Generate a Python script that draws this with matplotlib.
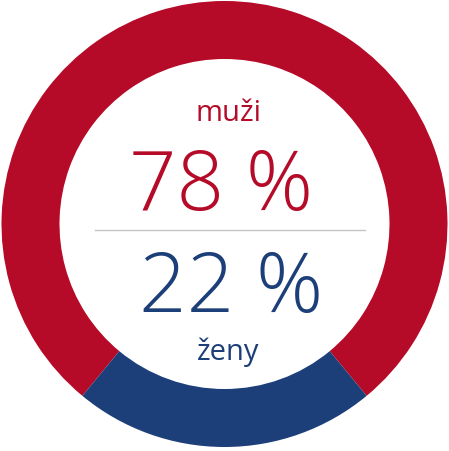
import matplotlib
matplotlib.use('Agg')
import matplotlib.pyplot as plt

# share of men / women
labels = ['muži', 'ženy']
values = [78, 22]
colors = ['#b50b28', '#1c3e79']

W, H = 449, 452
fig = plt.figure(figsize=(W / 100, H / 100), dpi=100)
ax = fig.add_axes([0, 0, 1, 1])

# put the women's wedge centred at the bottom
start = 270 - 360 * (values[0] + values[1] / 2) / sum(values)
ax.pie(values, colors=colors, startangle=start, counterclock=True,
       center=(224.5, H - 225), radius=223, frame=True,
       wedgeprops=dict(width=58, linewidth=0))
ax.set_xlim(0, W)
ax.set_ylim(0, H)
ax.set_aspect('equal')
ax.axis('off')

font = 'Open Sans'
ax.text(229, H - 121, labels[0], color=colors[0], fontsize=21, family=font,
        ha='center', va='baseline')
ax.text(221, H - 210, f'{values[0]} %', color=colors[0], fontsize=60,
        family=font, fontweight='light', ha='center', va='baseline')
ax.plot([95, 365], [H - 231, H - 231], color='#c4c4c4', lw=1)
ax.text(231, H - 312, f'{values[1]} %', color=colors[1], fontsize=60,
        family=font, fontweight='light', ha='center', va='baseline')
ax.text(228, H - 360, labels[1], color=colors[1], fontsize=21, family=font,
        ha='center', va='baseline')

plt.savefig('out.png', dpi=100)
